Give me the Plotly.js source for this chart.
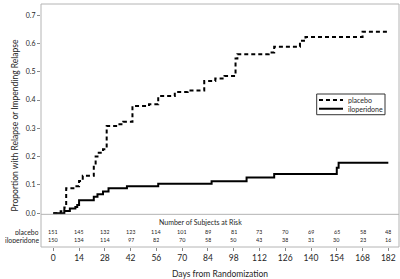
<!DOCTYPE html>
<html>
<head>
<meta charset="utf-8">
<script src="https://cdn.plot.ly/plotly-3.0.1.min.js"></script>
<style>
  html, body { margin: 0; padding: 0; background: #fff; }
  #chart { width: 400px; height: 279px; }
</style>
</head>
<body>
<div id="chart"></div>
<script>
// Cumulative proportion with relapse or impending relapse (event days and step heights)
const placeboDays = [0, 4, 6, 7, 12, 14, 16, 22, 23, 24, 27, 29, 35, 38, 43, 52, 57, 66, 73, 82, 88, 93, 99, 100, 117, 120, 134, 137, 168, 182];
const placeboRelapse = [0, 0.007, 0.02, 0.088, 0.095, 0.114, 0.132, 0.17, 0.2, 0.214, 0.226, 0.308, 0.314, 0.323, 0.379, 0.385, 0.414, 0.428, 0.434, 0.467, 0.476, 0.485, 0.547, 0.562, 0.568, 0.588, 0.609, 0.623, 0.641, 0.641];

const iloperidoneDays = [0, 6, 9, 12, 13, 14, 22, 24, 27, 30, 40, 57, 86, 105, 120, 154, 155, 182];
const iloperidoneRelapse = [0, 0.008, 0.017, 0.022, 0.029, 0.046, 0.058, 0.067, 0.077, 0.088, 0.095, 0.104, 0.113, 0.126, 0.139, 0.161, 0.178, 0.178];

// Number of subjects at risk, every 14 days
const riskDays = [0, 14, 28, 42, 56, 70, 84, 98, 112, 126, 140, 154, 168, 182];
const placeboAtRisk = [151, 145, 132, 123, 114, 101, 89, 81, 73, 70, 69, 65, 58, 48];
const iloperidoneAtRisk = [150, 134, 114, 97, 82, 70, 58, 50, 43, 38, 31, 30, 23, 16];

const yTicks = [0, 0.1, 0.2, 0.3, 0.4, 0.5, 0.6, 0.7];

const FONT = 'Lato, "Open Sans", sans-serif';
const TXT = '#262626';
const FRAME = '#b4b4b4';

const seriesStyle = {
  placebo: { shape: 'hv', color: '#000', width: 2, dash: '4px,3px' },
  iloperidone: { shape: 'hv', color: '#000', width: 2 }
};

const traces = [
  { x: placeboDays, y: placeboRelapse, name: 'placebo', type: 'scatter', mode: 'lines', line: seriesStyle.placebo },
  { x: iloperidoneDays, y: iloperidoneRelapse, name: 'iloperidone', type: 'scatter', mode: 'lines', line: seriesStyle.iloperidone }
];

const annotations = [];
const shapes = [
  // frame around plot and at-risk table
  { type: 'rect', xref: 'paper', yref: 'paper', x0: 0, x1: 1, y0: 0, y1: 1, line: { color: FRAME, width: 1 } },
  // separator between curves and at-risk table
  { type: 'line', xref: 'paper', yref: 'y', x0: 0, x1: 1, y0: -0.004, y1: -0.004, line: { color: FRAME, width: 1 } }
];

// at-risk table
annotations.push({
  text: 'Number of Subjects at Risk', xref: 'paper', yref: 'paper',
  x: 0.4455, y: 0.103, showarrow: false, xanchor: 'center', yanchor: 'middle',
  font: { family: FONT, size: 7, color: TXT }
});
const rows = [
  { label: 'placebo', counts: placeboAtRisk, y: 0.0625 },
  { label: 'iloperidone', counts: iloperidoneAtRisk, y: 0.0300 }
];
rows.forEach(r => {
  annotations.push({
    text: r.label, xref: 'paper', yref: 'paper', x: -0.004, y: r.y,
    showarrow: false, xanchor: 'right', yanchor: 'middle', borderpad: 0, height: 7,
    font: { family: FONT, size: 6.9, color: TXT }
  });
  r.counts.forEach((n, i) => {
    annotations.push({
      text: String(n), xref: 'x', yref: 'paper', x: riskDays[i], y: r.y,
      showarrow: false, xanchor: 'center', yanchor: 'middle', borderpad: 0, height: 6,
      font: { family: FONT, size: 5.5, color: TXT }
    });
  });
});

// compact legend box
const legendBox = { x0: 0.7701, x1: 0.9609, y0: 0.5444, y1: 0.6296 };
shapes.push({ type: 'rect', xref: 'paper', yref: 'paper', ...legendBox, fillcolor: '#fff', line: { color: '#333', width: 1 } });
const legendRows = [
  { name: 'placebo', y: 0.605 },
  { name: 'iloperidone', y: 0.569 }
];
legendRows.forEach(r => {
  const st = seriesStyle[r.name];
  shapes.push({
    type: 'line', xref: 'paper', yref: 'paper', x0: 0.7765, x1: 0.8436, y0: r.y, y1: r.y,
    line: { color: st.color, width: st.width, dash: st.dash || 'solid' }
  });
  annotations.push({
    text: r.name, xref: 'paper', yref: 'paper', x: 0.8547, y: r.y,
    showarrow: false, xanchor: 'left', yanchor: 'middle', borderpad: 0,
    font: { family: FONT, size: 7, color: TXT }
  });
});

const layout = {
  width: 400, height: 279,
  margin: { l: 41, r: 1, t: 4, b: 32, pad: 0 },
  paper_bgcolor: '#fff', plot_bgcolor: '#fff',
  showlegend: false,
  xaxis: {
    range: [-6.68, 187.8],
    tickvals: riskDays, ticktext: riskDays.map(String),
    ticks: 'outside', ticklen: 3, tickcolor: '#888', tickwidth: 1,
    showgrid: false, zeroline: false, showline: false,
    tickfont: { family: FONT, size: 8.5, color: TXT },
    title: { text: 'Days from Randomization', font: { family: FONT, size: 8.5, color: TXT }, standoff: 9 }
  },
  yaxis: {
    range: [-0.1194, 0.7393],
    tickvals: yTicks, ticktext: yTicks.map(v => v.toFixed(1)),
    ticks: 'outside', ticklen: 3, tickcolor: '#888', tickwidth: 1,
    showgrid: false, zeroline: false, showline: false,
    tickfont: { family: FONT, size: 7, color: TXT },
    title: { text: 'Proportion with Relapse or Impending Relapse', font: { family: FONT, size: 8.5, color: TXT }, standoff: 5 }
  },
  shapes: shapes,
  annotations: annotations
};

Plotly.newPlot('chart', traces, layout, { staticPlot: true, displayModeBar: false });
</script>
</body>
</html>
